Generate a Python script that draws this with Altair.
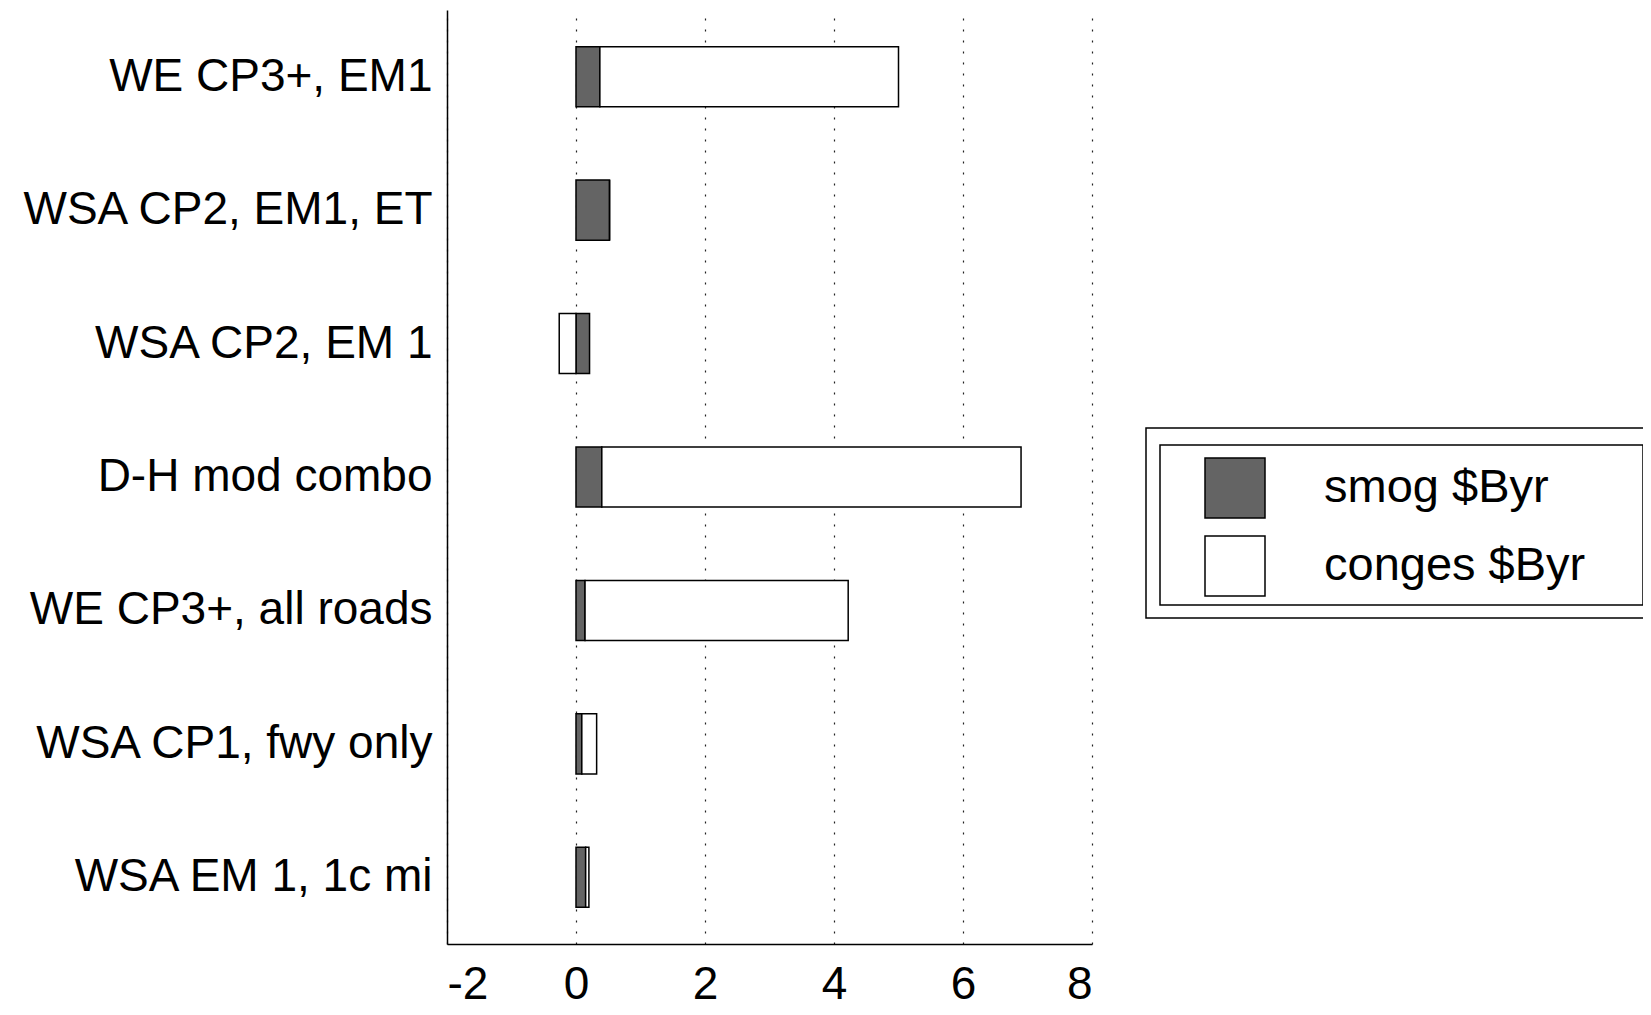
import altair as alt
import pandas as pd

categories = ["WE CP3+, EM1", "WSA CP2, EM1, ET", "WSA CP2, EM 1", "D-H mod combo",
              "WE CP3+, all roads", "WSA CP1, fwy only", "WSA EM 1, 1c mi"]
smog = [0.37, 0.52, 0.21, 0.40, 0.14, 0.09, 0.15]
conges = [4.63, 0.0, -0.26, 6.50, 4.08, 0.23, 0.05]
series = ["smog $Byr", "conges $Byr"]
x_ticks = [-2, 0, 2, 4, 6, 8]

rows = []
for c, s, g in zip(categories, smog, conges):
    rows.append({"scenario": c, "series": series[0], "value": s, "ord": 0})
    rows.append({"scenario": c, "series": series[1], "value": g, "ord": 1})
df = pd.DataFrame(rows)

W, H = 645, 934
FONT = "Liberation Sans"

bars = alt.Chart(df).mark_bar(stroke="black", strokeWidth=1.5).encode(
    y=alt.Y("scenario:N", sort=categories, title=None,
            scale=alt.Scale(paddingInner=0.55, paddingOuter=0.275),
            axis=alt.Axis(labelFontSize=46, labelFont=FONT, labelColor="black",
                          labelPadding=15, ticks=False, domainColor="black",
                          domainWidth=1.5, labelLimit=600)),
    x=alt.X("value:Q", stack="zero", title=None,
            scale=alt.Scale(domain=[-2, 8], nice=False),
            axis=alt.Axis(values=x_ticks, labelExpr="'' + datum.value", labelFontSize=46,
                          labelFont=FONT, labelColor="black", labelPadding=18, ticks=False,
                          domainColor="black", domainWidth=1.5,
                          grid=True, gridColor="#222", gridDash=[2, 9], gridWidth=1.2)),
    color=alt.Color("series:N", sort=series,
                    scale=alt.Scale(domain=series, range=["#646464", "#ffffff"]),
                    legend=alt.Legend(title=None, orient="none", legendX=757, legendY=447,
                                      padding=0, symbolType="square", symbolSize=3600,
                                      symbolStrokeColor="black", symbolStrokeWidth=1.5,
                                      symbolOpacity=1,
                                      labelFontSize=47, labelFont=FONT, labelColor="black",
                                      labelOffset=58, rowPadding=12, labelLimit=400)),
    order=alt.Order("ord:Q"),
)

outer_box = alt.Chart(pd.DataFrame({"k": [0]})).mark_rect(
    fill=None, stroke="black", strokeWidth=1.5).encode(
    x=alt.value(699), x2=alt.value(1215), y=alt.value(418), y2=alt.value(608))
inner_box = alt.Chart(pd.DataFrame({"k": [0]})).mark_rect(
    fill=None, stroke="black", strokeWidth=1.5).encode(
    x=alt.value(713), x2=alt.value(1196), y=alt.value(435), y2=alt.value(595))

chart = alt.layer(bars, outer_box, inner_box).properties(
    width=W, height=H,
    autosize=alt.AutoSizeParams(type="none"),
    padding={"left": 439, "top": 2, "right": 551, "bottom": 67},
).configure(background="white").configure_view(strokeWidth=0, stroke="transparent")

chart.save("out.html", embed_options={"renderer": "svg", "actions": False})
